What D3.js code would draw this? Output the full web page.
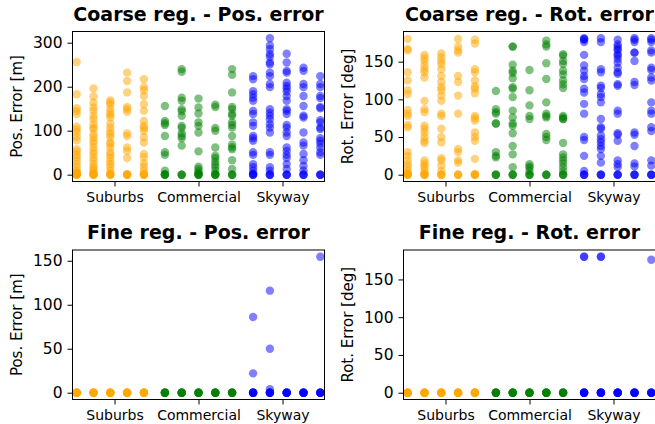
<!DOCTYPE html>
<html lang="en">
<head>
<meta charset="UTF-8">
<title>Registration errors</title>
<script src="https://d3js.org/d3.v7.min.js"></script>
<style>
  body { margin: 0; background: #fff; }
  svg text { font-family: "DejaVu Sans", sans-serif; fill: #000; }
</style>
</head>
<body>
<div id="chart"></div>
<script>
// categories and per-category colours
var categories = ["Suburbs", "Commercial", "Skyway"];
var colors = ["orange", "green", "blue"];

// one list per run column: 5 columns per category (Suburbs, Commercial, Skyway)
var coarsePos = [
  [256,183,151,145,138,109,103,96,86,78,58,53,45,39,32,24,17,9,5,2,0,0,0,1,3],
  [196,178,164,153,145,134,126,115,107,104,92,85,77,71,62,54,47,39,32,24,17,13,8,3,0,0,0,1],
  [169,164,159,149,141,136,130,116,107,98,92,85,73,70,62,51,45,38,30,24,17,9,0,0,0,2],
  [232,213,187,154,149,143,94,88,62,54,38,0,0,0,1],
  [217,199,192,179,160,145,122,111,106,100,85,73,47,39,26,18,9,0,0,0,1],
  [156,122,117,113,88,51,45,9,0,0,0,1],
  [240,234,175,168,149,144,134,111,106,94,88,83,66,0,0,0],
  [173,153,139,119,111,96,53,18,13,8,3,0,0,0,1],
  [159,154,106,100,62,43,38,30,23,17,9,0,0,0,1],
  [240,227,187,154,149,138,134,119,113,107,88,68,62,58,33,13,0,0,0],
  [224,217,190,183,175,168,145,138,119,111,88,83,77,51,45,24,17,9,0,0,0,2],
  [310,294,285,274,268,255,251,232,224,206,199,149,141,134,126,115,107,96,51,45,17,9,0,0,0],
  [275,255,236,232,209,202,196,189,179,168,149,145,138,113,107,96,88,62,54,45,38,24,13,0,0,0],
  [243,236,206,199,179,156,134,130,96,73,66,47,33,20,9,0,0,0],
  [224,206,199,179,174,154,151,124,119,107,104,83,77,71,62,51,45,0,0,0]
];

var coarseRot = [
  [180,167,165,136,125,112,107,86,81,78,66,63,30,25,19,14,10,5,0,0,0,1,2],
  [159,155,151,145,140,136,129,98,87,83,65,61,56,50,45,42,19,15,12,9,5,0,0,0,1],
  [161,156,151,147,140,131,123,116,112,105,98,81,78,61,50,43,22,19,12,5,0,0,0],
  [180,170,165,162,131,123,105,81,34,30,19,16,0,0,0],
  [179,174,140,136,125,117,114,108,78,75,72,56,50,45,21,0,0,0,1],
  [111,87,83,81,68,68,30,25,23,0,0,0],
  [170,170,146,138,135,128,116,114,103,85,76,68,65,55,38,27,10,0,0,0],
  [139,112,92,78,74,14,11,9,5,0,0,0],
  [178,173,170,148,127,96,81,78,76,54,50,46,0,0,0],
  [160,158,151,147,138,133,125,120,115,78,76,74,74,42,27,23,19,15,10,5,0,0,0],
  [181,180,179,176,159,145,138,131,127,114,109,94,81,50,46,25,5,0,0,0],
  [181,176,140,136,118,115,107,103,96,74,63,61,52,47,43,38,34,25,16,0,0,0],
  [179,173,170,167,165,160,158,154,149,142,136,134,120,118,85,81,55,53,45,19,14,10,0,0,0],
  [181,179,176,162,162,151,123,119,56,53,38,15,11,0,0,0],
  [181,179,176,165,162,142,139,129,125,96,85,81,63,58,19,12,0,0,0]
];

var finePos = [
  [0,0,0,0,0,0], [0,0,0,0,0,0], [0,0,0,0,0,0], [0,0,0,0,0,0], [0,0,0,0,0,0],
  [0,0,0,0,0,0], [0,0,0,0,0,0], [0,0,0,0,0,0], [0,0,0,0,0,0], [0,0,0,0,0,0],
  [86,22,0,0,0,0,0,0], [116,50,4,0,0,0,0,0], [0,0,0,0,0,0], [0,0,0,0,0,0], [154.5,0,0,0,0,0]
];

var fineRot = [
  [0,0,0,0,0,0], [0,0,0,0,0,0], [0,0,0,0,0,0], [0,0,0,0,0,0], [0,0,0,0,0,0],
  [0,0,0,0,0,0], [0,0,0,0,0,0], [0,0,0,0,0,0], [0,0,0,0,0,0], [0,0,0,0,0,0],
  [180,180,0,0,0,0,0,0], [180,180,0,0,0,0,0,0], [0,0,0,0,0,0], [0,0,0,0,0,0], [176,0,0,0,0,0]
];

var titles = ["Coarse reg. - Pos. error", "Coarse reg. - Rot. error",
              "Fine reg. - Pos. error", "Fine reg. - Rot. error"];
var yLabels = ["Pos. Error [m]", "Rot. Error [deg]", "Pos. Error [m]", "Rot. Error [deg]"];
var posTicks = [0, 100, 200, 300];
var rotTicks = [0, 50, 100, 150];
var fineTicks = [0, 50, 100, 150];

var width = 655, height = 424;

var panels = [
  { data: coarsePos, ticks: posTicks, x0: 72.5, x1: 324.5, y0: 31.5, y1: 181.5 },
  { data: coarseRot, ticks: rotTicks, x0: 403.5, x1: 655.5, y0: 31.5, y1: 181.5 },
  { data: finePos, ticks: fineTicks, x0: 72.5, x1: 324.5, y0: 250, y1: 399.5 },
  { data: fineRot, ticks: fineTicks, x0: 403.5, x1: 655.5, y0: 250, y1: 399.5 }
];

var svg = d3.select("#chart").append("svg")
    .attr("width", width)
    .attr("height", height);

panels.forEach(function(p, k) {
    var all = d3.merge(p.data);
    var lo = d3.min(all), hi = d3.max(all), pad = (hi - lo) * 0.05;

    var x = d3.scaleLinear().domain([-0.5, 2.5]).range([p.x0, p.x1]);
    var y = d3.scaleLinear().domain([lo - pad, hi + pad]).range([p.y1, p.y0]);

    var g = svg.append("g");

    svg.append("clipPath").attr("id", "clip" + k)
      .append("rect")
        .attr("x", p.x0).attr("y", p.y0)
        .attr("width", p.x1 - p.x0).attr("height", p.y1 - p.y0);

    // flatten columns into points
    var pts = [];
    p.data.forEach(function(col, c) {
        var grp = Math.floor(c / 5), j = c % 5;
        var xpos = grp - 0.45 + j * 0.2 + grp * 0.05;
        col.forEach(function(v) { pts.push({ x: xpos, v: v, grp: grp }); });
    });

    g.append("g")
        .attr("clip-path", "url(#clip" + k + ")")
      .selectAll("circle")
      .data(pts)
      .enter().append("circle")
        .attr("cx", function(d) { return x(d.x); })
        .attr("cy", function(d) { return y(d.v); })
        .attr("r", 4.2)
        .attr("fill", function(d) { return colors[d.grp]; })
        .attr("fill-opacity", 0.5);

    var yAxis = g.append("g")
        .attr("transform", "translate(" + p.x0 + ",0)")
        .call(d3.axisLeft(y).tickValues(p.ticks).tickSize(5).tickPadding(5));
    var xAxis = g.append("g")
        .attr("transform", "translate(0," + p.y1 + ")")
        .call(d3.axisBottom(x).tickValues([0, 1, 2])
              .tickFormat(function(i) { return categories[i]; })
              .tickSize(5).tickPadding(6));

    [yAxis, xAxis].forEach(function(a) {
        a.select(".domain").remove();
        a.selectAll("line").attr("stroke", "#000");
        a.selectAll("text").attr("fill", "#000")
            .style("font-family", "DejaVu Sans");
    });
    yAxis.selectAll("text").attr("font-size", 15.5);
    xAxis.selectAll("text").attr("font-size", 14);

    // frame
    g.append("rect")
        .attr("x", p.x0).attr("y", p.y0)
        .attr("width", p.x1 - p.x0).attr("height", p.y1 - p.y0)
        .attr("fill", "none").attr("stroke", "#000").attr("stroke-width", 1);

    g.append("text")
        .attr("x", (p.x0 + p.x1) / 2)
        .attr("y", p.y0 - 11)
        .attr("text-anchor", "middle")
        .attr("font-size", 19)
        .attr("font-weight", "bold")
        .text(titles[k]);

    g.append("text")
        .attr("transform", "translate(" + (p.x0 - 51) + "," + ((p.y0 + p.y1) / 2) + ") rotate(-90)")
        .attr("text-anchor", "middle")
        .attr("font-size", 15)
        .text(yLabels[k]);
});
</script>
</body>
</html>
